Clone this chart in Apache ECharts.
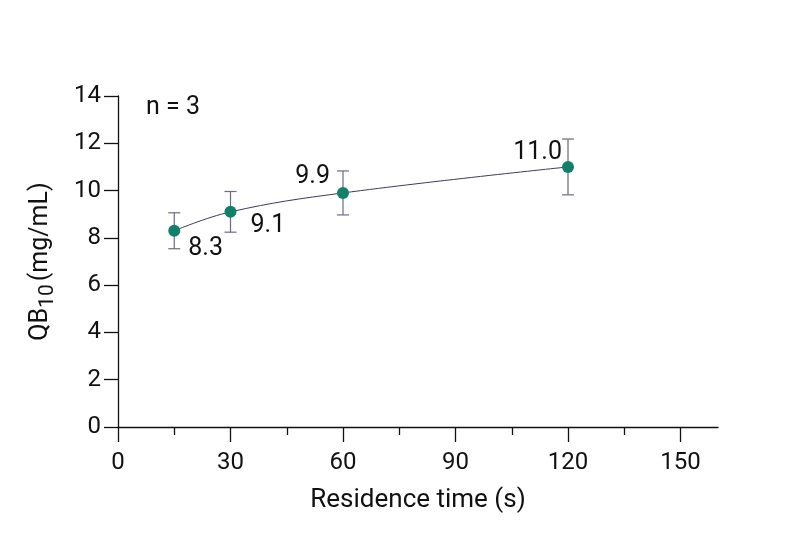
<!DOCTYPE html>
<html lang="en">
<head>
    <meta charset="UTF-8">
    <title>QB10 vs residence time</title>
    <script src="https://cdn.jsdelivr.net/npm/echarts@6/dist/echarts.min.js"></script>
</head>
<body style="margin:0">
<div id="main" style="width: 796px;height: 541px"></div>

<script>
    // residence time (s), QB10 mean and error (mg/mL)
    var times = [15, 30, 60, 120];
    var qb10 = [8.3, 9.1, 9.9, 11.0];
    var errs = [0.76, 0.86, 0.93, 1.18];
    var pointLabels = ['8.3', '9.1', '9.9', '11.0'];
    var majorTicks = [0, 30, 60, 90, 120, 150];
    var minorTicks = [15, 45, 75, 105, 135];

    var fontName = 'Roboto';
    var axisColor = '#111';

    var lineData = times.map(function (t, i) { return [t, qb10[i]]; });
    var errData = times.map(function (t, i) { return [t, qb10[i] - errs[i], qb10[i] + errs[i]]; });

    // label placement like the original figure
    var labelPos = [
        {position: 'right', offset: [3, 18]},
        {position: 'right', offset: [9, 14]},
        {position: 'left', offset: [-2, -16]},
        {position: 'left', offset: [5, -14]}
    ];

    var chart = echarts.init(document.getElementById('main'));
    var option = {
        animation: false,
        grid: {left: 118, top: 96, right: 78, bottom: 114},
        xAxis: [{
            type: 'value',
            min: 0,
            max: 160,
            name: 'Residence time (s)',
            nameLocation: 'middle',
            nameGap: 60,
            nameTextStyle: {fontFamily: fontName, fontSize: 26, color: axisColor},
            axisLine: {lineStyle: {color: axisColor, width: 1.3}},
            axisTick: {length: 15, customValues: majorTicks, lineStyle: {color: axisColor, width: 1.3}},
            axisLabel: {
                fontFamily: fontName, fontSize: 24, color: axisColor, margin: 24,
                customValues: majorTicks
            },
            splitLine: {show: false}
        }, {
            type: 'value',
            min: 0,
            max: 160,
            position: 'bottom',
            axisLine: {show: false},
            axisTick: {length: 8, customValues: minorTicks, lineStyle: {color: axisColor, width: 1.3}},
            axisLabel: {show: false},
            splitLine: {show: false}
        }],
        yAxis: {
            type: 'value',
            min: 0,
            max: 14,
            interval: 2,
            name: '{a|QB}{s|10}{a|(mg/mL)}',
            nameLocation: 'middle',
            nameGap: 60,
            nameRotate: 90,
            nameTextStyle: {
                fontFamily: fontName, color: axisColor,
                rich: {
                    a: {fontFamily: fontName, fontSize: 25, color: axisColor, lineHeight: 34, verticalAlign: 'middle'},
                    s: {fontFamily: fontName, fontSize: 21, color: axisColor, lineHeight: 34, verticalAlign: 'bottom', padding: [0, 3, 0, 0]}
                }
            },
            axisLine: {show: true, lineStyle: {color: axisColor, width: 1.3}},
            axisTick: {show: true, length: 14, lineStyle: {color: axisColor, width: 1.3}},
            axisLabel: {fontFamily: fontName, fontSize: 24, color: axisColor, margin: 17},
            splitLine: {show: false}
        },
        graphic: [{
            type: 'text',
            left: 146,
            top: 95,
            style: {text: 'n = 3', fontFamily: fontName, fontSize: 25, fill: axisColor}
        }],
        series: [
            {
                type: 'custom',
                data: errData,
                z: 1,
                renderItem: function (params, api) {
                    var x = api.value(0);
                    var lo = api.coord([x, api.value(1)]);
                    var hi = api.coord([x, api.value(2)]);
                    var w = 6;
                    var st = {stroke: '#6b6b80', lineWidth: 1.2};
                    return {
                        type: 'group',
                        children: [
                            {type: 'line', shape: {x1: lo[0], y1: lo[1], x2: hi[0], y2: hi[1]}, style: st},
                            {type: 'line', shape: {x1: lo[0] - w, y1: lo[1], x2: lo[0] + w, y2: lo[1]}, style: st},
                            {type: 'line', shape: {x1: hi[0] - w, y1: hi[1], x2: hi[0] + w, y2: hi[1]}, style: st}
                        ]
                    };
                }
            },
            {
                type: 'line',
                data: lineData.map(function (d, i) {
                    return {
                        value: d,
                        label: {
                            show: true,
                            formatter: pointLabels[i],
                            position: labelPos[i].position,
                            offset: labelPos[i].offset,
                            fontFamily: fontName,
                            fontSize: 25,
                            color: axisColor
                        }
                    };
                }),
                smooth: 0.4,
                z: 3,
                symbol: 'circle',
                symbolSize: 12,
                itemStyle: {color: '#10806a'},
                lineStyle: {color: '#3c3c5a', width: 1}
            }
        ]
    };
    chart.setOption(option);
</script>
</body>
</html>
